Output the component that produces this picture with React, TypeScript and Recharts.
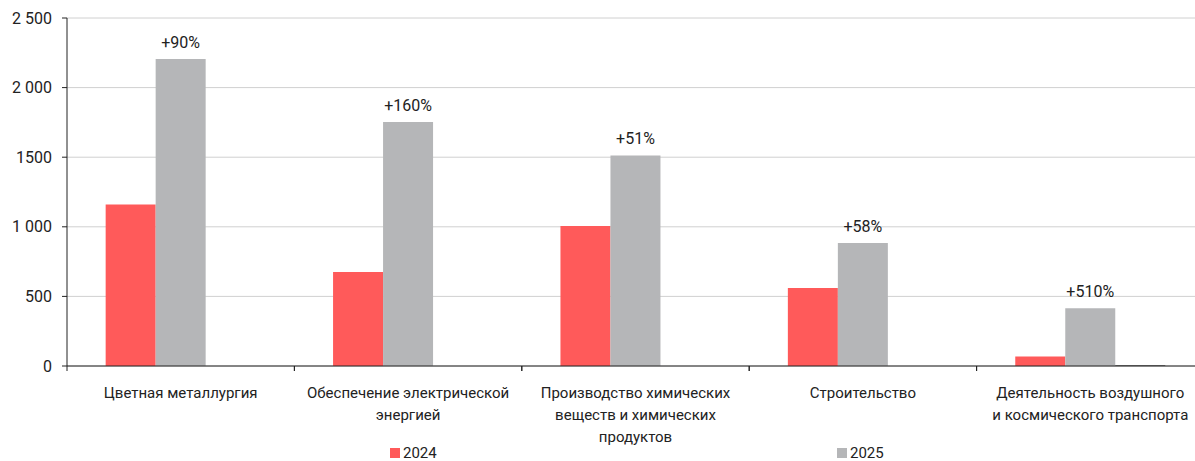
import React from 'react';
import { BarChart, Bar, XAxis, YAxis, CartesianGrid, LabelList, Legend } from 'recharts';

// categories (\n = line break in the axis label)
const categories = [
  'Цветная металлургия',
  'Обеспечение электрической\nэнергией',
  'Производство химических\nвеществ и химических\nпродуктов',
  'Строительство',
  'Деятельность воздушного\nи космического транспорта',
];
const values2024 = [1160, 675, 1005, 560, 68];
const values2025 = [2205, 1752, 1513, 884, 415];
const valuesOther = [0, 0, 0, 0, 6];
const growthLabels = ['+90%', '+160%', '+51%', '+58%', '+510%'];

const yTicks = [0, 500, 1000, 1500, 2000, 2500];
const yTickLabels = ['0', '500', '1 000', '1500', '2 000', '2 500'];

const data = categories.map((name, i) => ({
  name,
  y2024: values2024[i],
  y2025: values2025[i],
  other: valuesOther[i],
  growth: growthLabels[i],
}));

const FONT = 'Roboto, "Noto Sans", sans-serif';
const RED = '#ff5a5a';
const GRAY = '#b5b6b8';
const AXIS = '#222';

// label lines + small tick marks on the category boundaries
// eslint-disable-next-line @typescript-eslint/no-explicit-any
const CategoryTick = (props: any) => {
  const { x, y, payload } = props;
  const lines = String(payload.value).split('\n');
  const half = payload.offset || 0;
  const axisY = y - 8;
  return (
    <g>
      <line x1={x - half} x2={x - half} y1={axisY} y2={axisY + 5} stroke={AXIS} />
      <line x1={x + half} x2={x + half} y1={axisY} y2={axisY + 5} stroke={AXIS} />
      <text x={x} y={y} textAnchor="middle" fill="#222" fontSize={15} fontFamily={FONT}>
        {lines.map((ln, i) => (
          <tspan key={i} x={x} dy={i === 0 ? 24 : 22}>
            {ln}
          </tspan>
        ))}
      </text>
    </g>
  );
};

const LegendBox = () => (
  <div style={{ position: 'relative', height: 24, fontFamily: FONT, fontSize: 15, color: '#222' }}>
    <div style={{ position: 'absolute', left: 390, top: 7, display: 'flex', alignItems: 'center' }}>
      <span style={{ width: 10, height: 10, background: RED, display: 'inline-block', marginRight: 3 }} />
      2024
    </div>
    <div style={{ position: 'absolute', left: 837, top: 7, display: 'flex', alignItems: 'center' }}>
      <span style={{ width: 10, height: 10, background: GRAY, display: 'inline-block', marginRight: 3 }} />
      2025
    </div>
  </div>
);

export default function App() {
  return (
    <div style={{ position: 'absolute', left: 0, top: 0, width: 1195, height: 461, overflow: 'hidden', background: '#fff' }}>
      <BarChart
        width={1210}
        height={461}
        data={data}
        margin={{ top: 18, right: 6, left: 0, bottom: 0 }}
        barCategoryGap="17%"
        barGap={0}
      >
        <CartesianGrid vertical={false} stroke="#d0d0d0" strokeWidth={1} />
        <XAxis
          dataKey="name"
          interval={0}
          height={71}
          tickLine={false}
          axisLine={{ stroke: AXIS }}
          tick={<CategoryTick />}
        />
        <YAxis
          width={67}
          domain={[0, 2500]}
          ticks={yTicks}
          tickFormatter={(v: number) => yTickLabels[yTicks.indexOf(v)]}
          axisLine={{ stroke: AXIS }}
          tickLine={{ stroke: AXIS }}
          tickSize={5}
          tickMargin={10}
          tick={{ fill: '#222', fontSize: 16, fontFamily: FONT }}
        />
        <Legend verticalAlign="bottom" height={24} content={<LegendBox />} wrapperStyle={{ left: 0, width: 1210 }} />
        <Bar dataKey="y2024" name="2024" fill={RED} isAnimationActive={false} />
        <Bar dataKey="y2025" name="2025" fill={GRAY} isAnimationActive={false}>
          <LabelList dataKey="growth" position="top" offset={11} fill="#222" fontSize={16} fontFamily={FONT} />
        </Bar>
        <Bar dataKey="other" name="other" fill="#555" isAnimationActive={false} legendType="none" />
      </BarChart>
    </div>
  );
}
